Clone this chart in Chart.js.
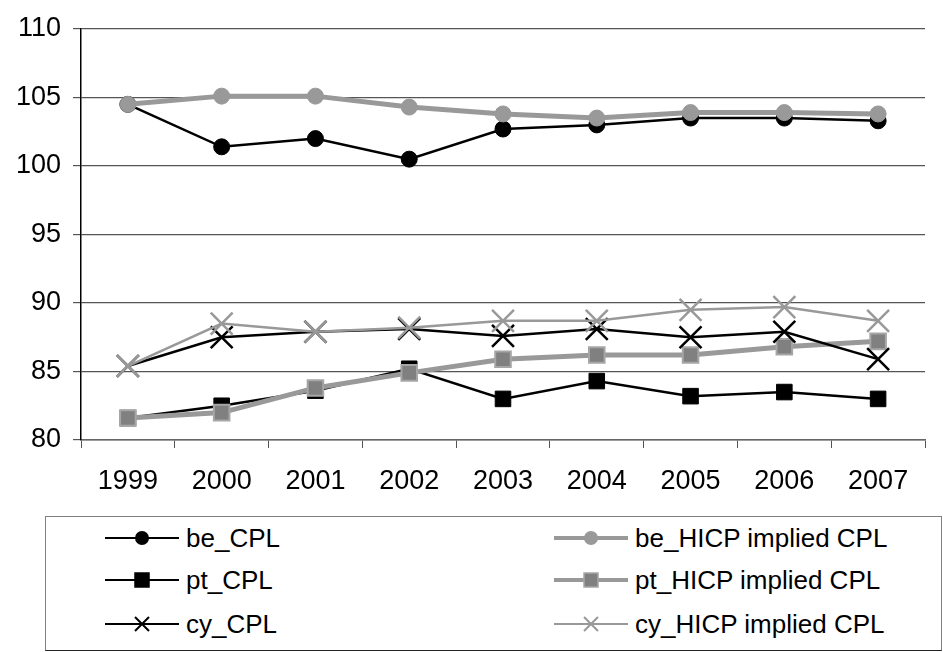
<!DOCTYPE html>
<html>
<head>
<meta charset="utf-8">
<script src="https://cdn.jsdelivr.net/npm/chart.js@4"></script>
<style>
  body { margin: 0; background: #fff; font-family: "Liberation Sans", Arial, sans-serif; }
  #wrap { position: absolute; left: 0; top: 0; width: 943px; height: 500px; }
  #legend {
    position: absolute; left: 45px; top: 516px; width: 895px; height: 133px;
    border: 1.5px solid #808080; border-bottom-color: #222; box-sizing: content-box;
  }
  .item { position: absolute; height: 30px; display: flex; align-items: center; font-size: 26px; color: #000; white-space: nowrap; }
  .item svg { margin-right: 7px; }
</style>
</head>
<body>
<div id="wrap"><canvas id="chart"></canvas></div>
<div id="legend"></div>
<script>
const years = ['1999', '2000', '2001', '2002', '2003', '2004', '2005', '2006', '2007'];
const beCPL  = [104.5, 101.4, 102.0, 100.5, 102.7, 103.0, 103.5, 103.5, 103.3];
const beHICP = [104.5, 105.1, 105.1, 104.3, 103.8, 103.5, 103.9, 103.9, 103.8];
const ptCPL  = [81.6, 82.5, 83.6, 85.2, 83.0, 84.3, 83.2, 83.5, 83.0];
const ptHICP = [81.6, 82.0, 83.8, 84.9, 85.9, 86.2, 86.2, 86.8, 87.2];
const cyCPL  = [85.4, 87.5, 87.9, 88.1, 87.6, 88.1, 87.5, 87.9, 85.9];
const cyHICP = [85.4, 88.5, 87.9, 88.2, 88.7, 88.7, 89.5, 89.7, 88.7];

const black = '#000000';
const gray = '#999999';

const datasets = [
  { label: 'be_CPL', data: beCPL, borderColor: black, borderWidth: 2.5,
    pointStyle: 'circle', pointRadius: 8, pointBackgroundColor: black, pointBorderColor: black, pointBorderWidth: 1 },
  { label: 'be_HICP implied CPL', data: beHICP, borderColor: gray, borderWidth: 5,
    pointStyle: 'circle', pointRadius: 8, pointBackgroundColor: gray, pointBorderColor: gray, pointBorderWidth: 1 },
  { label: 'pt_CPL', data: ptCPL, borderColor: black, borderWidth: 2.5,
    pointStyle: 'rect', pointRadius: 11, pointBackgroundColor: black, pointBorderColor: black, pointBorderWidth: 1 },
  { label: 'pt_HICP implied CPL', data: ptHICP, borderColor: gray, borderWidth: 5,
    pointStyle: 'rect', pointRadius: 11, pointBackgroundColor: '#808080', pointBorderColor: '#a6a6a6', pointBorderWidth: 2 },
  { label: 'cy_CPL', data: cyCPL, borderColor: black, borderWidth: 2.5,
    pointStyle: 'crossRot', pointRadius: 15.5, pointBackgroundColor: black, pointBorderColor: black, pointBorderWidth: 2.5 },
  { label: 'cy_HICP implied CPL', data: cyHICP, borderColor: gray, borderWidth: 2.5,
    pointStyle: 'crossRot', pointRadius: 15.5, pointBackgroundColor: gray, pointBorderColor: gray, pointBorderWidth: 2.5 }
];
// later series sit on top, like the original
datasets.forEach((d, i) => { d.order = datasets.length - i; d.tension = 0; d.fill = false; });

const font = { family: '"Liberation Sans", Arial, sans-serif', size: 27 };

new Chart(document.getElementById('chart'), {
  type: 'line',
  data: { labels: years, datasets: datasets },
  options: {
    responsive: true,
    maintainAspectRatio: false,
    animation: false,
    layout: { padding: { top: 29, right: 1, left: 0, bottom: 0 } },
    plugins: { legend: { display: false }, tooltip: { enabled: false } },
    scales: {
      x: {
        offset: true,
        grid: { offset: true, drawOnChartArea: false, drawTicks: true, tickLength: 8, color: '#555' },
        border: { color: '#666', width: 1.5 },
        ticks: { font: font, color: black, padding: 17, maxRotation: 0 },
        afterFit: s => { s.height = 60; }
      },
      y: {
        min: 80, max: 110,
        ticks: { stepSize: 5, font: font, color: black, padding: 12 },
        grid: { color: '#555', lineWidth: 1.2, tickLength: 8 },
        border: { color: black, width: 1.5 },
        afterFit: s => { s.width = 81; }
      }
    }
  }
});

// html legend, two columns, row by row
function marker(d) {
  const c = d.pointBorderColor, f = d.pointBackgroundColor;
  const w = d.borderWidth > 3 ? 4 : 2;
  let m = '';
  if (d.pointStyle === 'circle') m = `<circle cx="37" cy="15" r="7" fill="${f}"/>`;
  if (d.pointStyle === 'rect') m = `<rect x="30" y="8" width="14" height="14" fill="${f}" stroke="${c}" stroke-width="1.5"/>`;
  if (d.pointStyle === 'crossRot') m = `<path d="M30 8 L44 22 M44 8 L30 22" stroke="${c}" stroke-width="2"/>`;
  return `<svg width="74" height="30"><line x1="0" y1="15" x2="74" y2="15" stroke="${d.borderColor}" stroke-width="${w}"/>${m}</svg>`;
}
const legend = document.getElementById('legend');
const colX = [59, 508];
const rowY = [6, 48, 92];
datasets.forEach((d, i) => {
  const el = document.createElement('div');
  el.className = 'item';
  el.style.left = colX[i % 2] + 'px';
  el.style.top = rowY[Math.floor(i / 2)] + 'px';
  el.innerHTML = marker(d) + '<span>' + d.label + '</span>';
  legend.appendChild(el);
});
</script>
</body>
</html>
